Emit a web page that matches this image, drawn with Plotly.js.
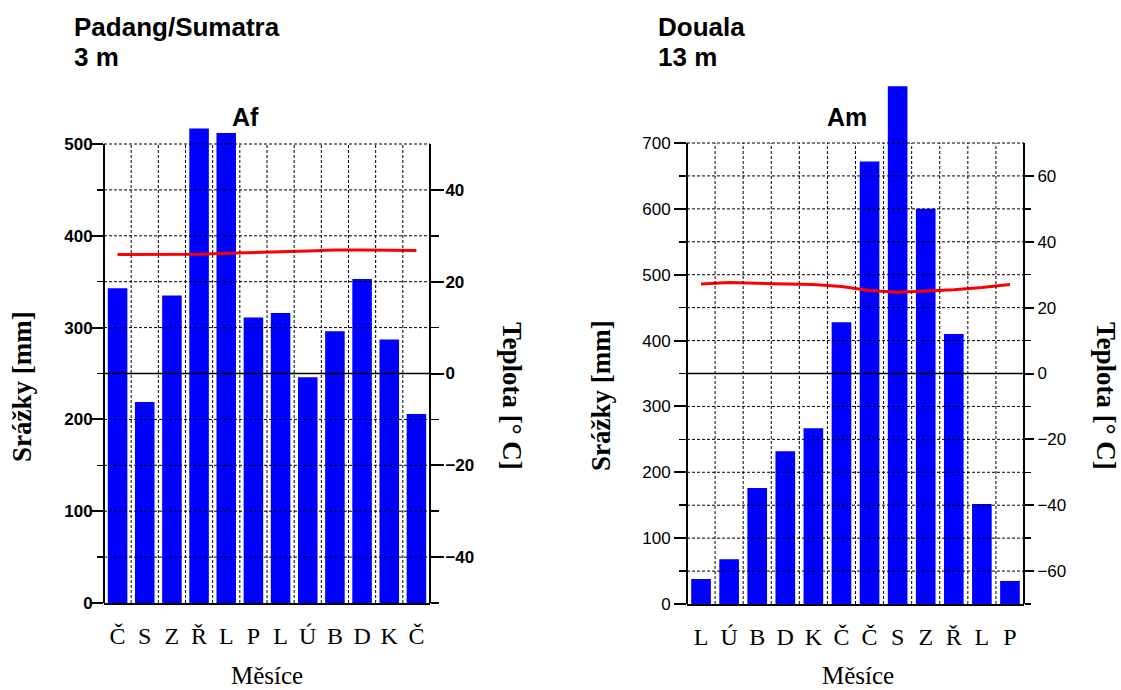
<!DOCTYPE html>
<html><head><meta charset="utf-8">
<script src="https://cdn.plot.ly/plotly-3.0.1.min.js"></script>
<style>html,body{margin:0;padding:0;background:#fff}#chart{width:1121px;height:690px}</style>
</head><body><div id="chart"></div>
<script>
// ---- data ----
const padangMonths = ['Č','S','Z','Ř','L','P','L','Ú','B','D','K','Č'];
const padangPrecip = [343, 219, 335, 517, 512, 311, 316, 246, 296, 353, 287, 206];
const padangTemp   = [25.9, 25.9, 26.0, 26.0, 26.2, 26.3, 26.5, 26.7, 26.9, 26.9, 26.9, 26.8];

const doualaMonths = ['L','Ú','B','D','K','Č','Č','S','Z','Ř','L','P'];
const doualaPrecip = [38, 68, 176, 232, 267, 428, 672, 786, 600, 410, 152, 35];
const doualaTemp   = [27.2, 27.6, 27.4, 27.3, 27.0, 26.4, 25.2, 24.7, 25.0, 25.4, 26.1, 27.0];

const padangTitle = ['Padang/Sumatra', '3 m', 'Af'];
const doualaTitle = ['Douala', '13 m', 'Am'];
const yTitle = 'Srážky [mm]';
const y2Title = 'Teplota [° C]';
const xTitle = 'Měsíce';

// ---- layout helpers ----
const W = 1121, H = 690;
const fx = p => p / W;
const fy = p => 1 - p / H;
const sans = 'Liberation Sans, Arial, sans-serif';
const serif = 'Liberation Serif, Times New Roman, serif';

function steps(a, b, s) { const r = []; for (let v = a; v <= b + 1e-9; v += s) r.push(v); return r; }

// cfg: pixel box of the nominal frame and the pixel top of the extended area
function chart(cfg) {
  const pxPerMm = (cfg.bottom - cfg.top) / cfg.max;
  const rangeMax = (cfg.bottom - cfg.extTop) / pxPerMm;   // room for bars above the frame
  const half = cfg.max / 10;                                // temperature half-span (°C)
  const tMax = (rangeMax - cfg.max / 2) / 5;
  const font = {family: sans, size: 17, color: '#000', weight: cfg.bold ? 'bold' : 'normal'};
  const xa = {
    domain: [fx(cfg.left), fx(cfg.right)], anchor: cfg.ya, range: [-0.5, cfg.months.length - 0.5],
    tickmode: 'array', tickvals: cfg.months.map((_, i) => i), ticktext: cfg.months,
    ticks: '', showgrid: false, zeroline: false,
    showline: true, linecolor: '#000', linewidth: 2,
    tickfont: {family: serif, size: 24, color: '#000'}, ticklabelstandoff: 10
  };
  const ya = {
    domain: [fy(cfg.bottom), fy(cfg.extTop)], anchor: cfg.xa, range: [0, rangeMax],
    tickmode: 'array', tickvals: steps(0, cfg.max, 100),
    ticks: 'outside', ticklen: cfg.lMaj, tickwidth: 2, tickcolor: '#000',
    minor: {tickmode: 'array', tickvals: steps(50, cfg.max - 50, 100), ticks: 'outside',
            ticklen: cfg.lMin, tickwidth: 1.5, tickcolor: '#000', showgrid: false},
    showgrid: false, zeroline: false, showline: false,
    tickfont: font, ticklabelstandoff: cfg.lStand
  };
  const ta = {
    overlaying: cfg.ya, anchor: cfg.xa, side: 'right', range: [-half, tMax],
    tickmode: 'array', tickvals: steps(-half + 10, half - 10, 20),
    ticks: 'outside', ticklen: cfg.rMaj, tickwidth: 2, tickcolor: '#000',
    minor: {tickmode: 'array', tickvals: steps(-half, half - 10, 20), ticks: 'outside',
            ticklen: cfg.rMin, tickwidth: 1.5, tickcolor: '#000', showgrid: false},
    showgrid: false, zeroline: false, showline: false,
    tickfont: font, ticklabelstandoff: cfg.rStand
  };
  // decorations: dashed grid above the bars, solid 0 °C line and frame sides
  const dash = {color: '#000', width: 1, dash: '3px,2px'};
  const solid = {color: '#000', width: 2};
  const shapes = [];
  steps(50, cfg.max, 50).forEach(v => {
    if (v === cfg.max / 2) return;
    shapes.push({type: 'line', layer: 'above', xref: cfg.xa + ' domain', x0: 0, x1: 1, yref: cfg.ya, y0: v, y1: v, line: dash});
  });
  cfg.months.slice(1).forEach((_, i) => {
    shapes.push({type: 'line', layer: 'above', xref: cfg.xa, x0: i + 0.5, x1: i + 0.5, yref: cfg.ya, y0: 0, y1: cfg.max, line: dash});
  });
  shapes.push({type: 'line', layer: 'above', xref: cfg.xa + ' domain', x0: 0, x1: 1, yref: cfg.ta, y0: 0, y1: 0, line: {color: '#000', width: 1.5}});
  [0, 1].forEach(s => shapes.push({type: 'line', layer: 'above', xref: cfg.xa + ' domain', x0: s, x1: s, yref: cfg.ya, y0: 0, y1: cfg.max, line: solid}));
  const idx = cfg.months.map((_, i) => i);
  const traces = [
    {type: 'bar', x: idx, y: cfg.precip, xaxis: cfg.xa, yaxis: cfg.ya, width: cfg.barW,
     marker: {color: '#0000ff', line: {width: 0}}, hoverinfo: 'skip'},
    {type: 'scatter', mode: 'lines', x: idx, y: cfg.temp, xaxis: cfg.xa, yaxis: cfg.ta,
     line: {color: '#ff0000', width: 3}, hoverinfo: 'skip'}
  ];
  return {xa, ya, ta, shapes, traces};
}

const A = chart({months: padangMonths, precip: padangPrecip, temp: padangTemp, xa: 'x', ya: 'y', ta: 'y2',
  left: 104, right: 430, top: 144, bottom: 603, extTop: 124, max: 500, bold: true, barW: 0.72,
  lMaj: 11, lMin: 6, lStand: -4, rMaj: 13, rMin: 8, rStand: -2});
const B = chart({months: doualaMonths, precip: doualaPrecip, temp: doualaTemp, xa: 'x2', ya: 'y3', ta: 'y4',
  left: 687, right: 1024, top: 143, bottom: 604, extTop: 80, max: 700, bold: false, barW: 0.7,
  lMaj: 12, lMin: 7, lStand: 0, rMaj: 9, rMin: 6, rStand: 0});

function ann(text, x, y, size, font, bold, extra) {
  return Object.assign({text: text, xref: 'paper', yref: 'paper', x: fx(x), y: fy(y), showarrow: false,
    xanchor: 'left', yanchor: 'middle',
    font: {family: font, size: size, color: '#000', weight: bold ? 'bold' : 'normal'}}, extra || {});
}

const annotations = [
  ann(padangTitle[0], 72, 27, 26, sans, true),
  ann(padangTitle[1], 72, 57, 26, sans, true),
  ann(padangTitle[2], 245, 117, 25, sans, true, {xanchor: 'center'}),
  ann(doualaTitle[0], 656, 27, 26, sans, true),
  ann(doualaTitle[1], 656, 57, 26, sans, true),
  ann(doualaTitle[2], 847, 117, 25, sans, true, {xanchor: 'center'}),
  ann(yTitle, 22, 387, 27, serif, true, {xanchor: 'center', textangle: -90}),
  ann(y2Title, 512, 396, 27, serif, true, {xanchor: 'center', textangle: 90}),
  ann(yTitle, 601, 396, 27, serif, true, {xanchor: 'center', textangle: -90}),
  ann(y2Title, 1106, 396, 27, serif, true, {xanchor: 'center', textangle: 90}),
  ann(xTitle, 267, 691, 25, serif, false, {xanchor: 'center', yanchor: 'bottom'}),
  ann(xTitle, 858, 691, 25, serif, false, {xanchor: 'center', yanchor: 'bottom'})
];

const layout = {
  width: W, height: H, margin: {l: 0, r: 0, t: 0, b: 0},
  paper_bgcolor: '#fff', plot_bgcolor: 'rgba(0,0,0,0)', showlegend: false,
  xaxis: A.xa, yaxis: A.ya, yaxis2: A.ta,
  xaxis2: B.xa, yaxis3: B.ya, yaxis4: B.ta,
  shapes: A.shapes.concat(B.shapes),
  annotations: annotations
};

Plotly.newPlot('chart', A.traces.concat(B.traces), layout, {staticPlot: true, displayModeBar: false});
</script>
</body></html>
